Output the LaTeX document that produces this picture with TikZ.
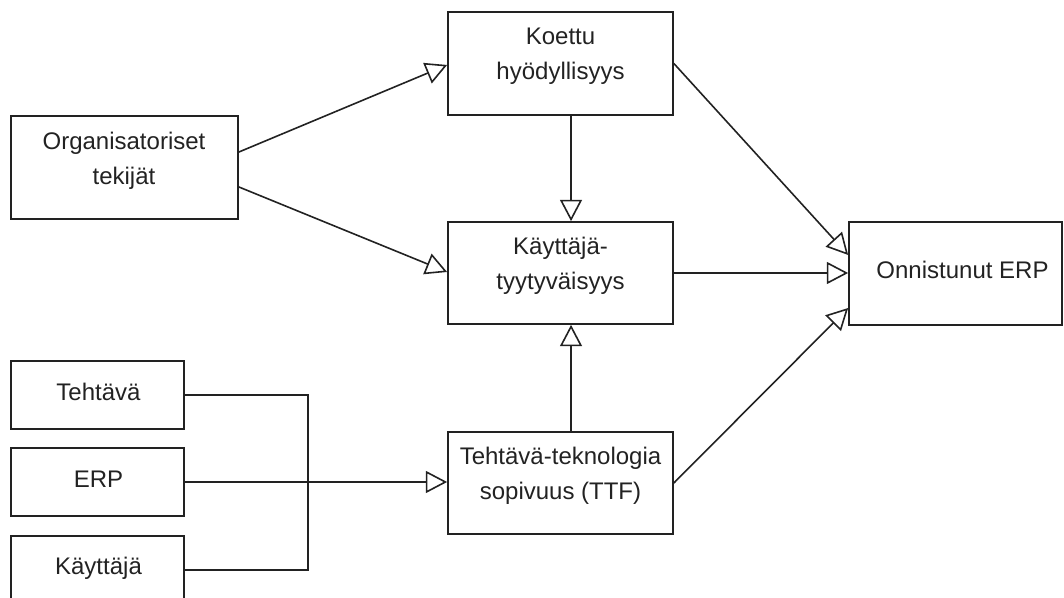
\documentclass[tikz,border=0pt]{standalone}
\usepackage{fontspec}
\setmainfont{Liberation Sans}
\usetikzlibrary{arrows.meta,fit}
\definecolor{ink}{HTML}{222222}
\begin{document}
\begin{tikzpicture}[
  x=0.75pt, y=-0.75pt,
  line width=1.3pt, draw=ink,
  box/.style={draw=ink, line width=1.3pt, inner sep=0pt, rectangle},
  lbl/.style={inner sep=0pt, align=center, text=ink,
    font=\fontsize{18}{26.25}\selectfont},
  link/.style={draw=ink, line width=1.2pt,
    -{Triangle[open, fill=white, length=16pt, width=16.5pt]}},
  wire/.style={draw=ink, line width=1.2pt}
]
\useasboundingbox (0,0) rectangle (1064,598);
\clip (0,0) rectangle (1064,598);

% boxes
\node[box, fit={(11,116) (238,219)}] (org) {};
\node[box, fit={(448,12) (673,115)}] (koettu) {};
\node[box, fit={(448,222) (673,324)}] (kt) {};
\node[box, fit={(849,222) (1062,325)}] (onn) {};
\node[box, fit={(448,432) (673,534)}] (ttf) {};
\node[box, fit={(11,361) (184,429)}] (teh) {};
\node[box, fit={(11,448) (184,516)}] (erp) {};
\node[box, fit={(11,536) (184,604)}] (kay) {};

% labels
\node[lbl] (org-t) at (124,160.5) {Organisatoriset\\tekijät};
\node[lbl] (koettu-t) at (560.5,56.5) {Koettu\\hyödyllisyys};
\node[lbl] (kt-t) at (560.5,266) {Käyttäjä-\\tyytyväisyys};
\node[lbl] (onn-t) at (962.5,269.5) {Onnistunut ERP};
\node[lbl] (ttf-t) at (560.5,476) {Tehtävä-teknologia\\sopivuus (TTF)};
\node[lbl] (teh-t) at (98.5,392) {Tehtävä};
\node[lbl] (erp-t) at (98.5,479) {ERP};
\node[lbl] (kay-t) at (98.5,568) {Käyttäjä};

% connectors
\draw[link] ([yshift=11.6pt]org.east) -- ([yshift=-1.1pt]koettu.west);
\draw[link] ([yshift=-14.6pt]org.east) -- ([yshift=0.75pt]kt.west);
\draw[link] ([xshift=7.9pt]koettu.south) -- ([xshift=7.9pt]kt.north);
\draw[link] ([xshift=7.9pt]ttf.north) -- ([xshift=7.9pt]kt.south);
\draw[link] (koettu.east) -- ([yshift=13.9pt]onn.west);
\draw[link] (kt.east) -- (kt.east -| onn.west);
\draw[link] (ttf.east) -- ([yshift=-25.9pt]onn.west);

\coordinate (jn) at (308,483);
\draw[wire] (teh.east) -| (jn);
\draw[wire] (kay.east) -| (jn);
\draw[link] (erp.east) -- (erp.east -| ttf.west);
\end{tikzpicture}
\end{document}
